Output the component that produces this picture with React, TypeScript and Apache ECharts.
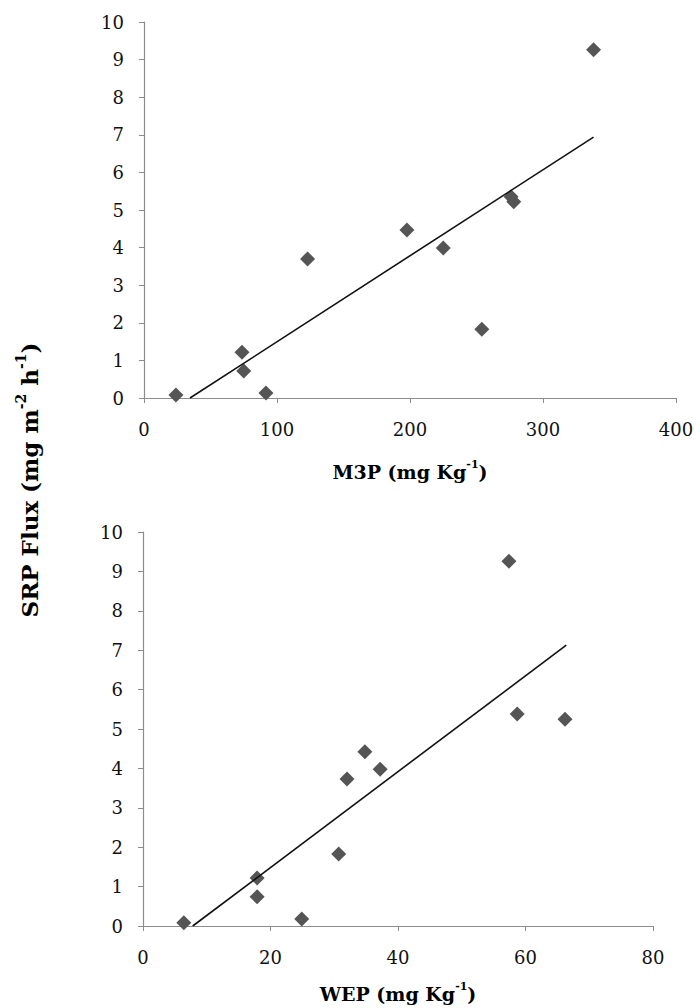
import React, { useEffect, useRef } from "react";
import * as echarts from "echarts";

// M3P panel (top)
const m3pX = [24, 73.7, 75, 91.7, 123, 197.7, 225, 254, 276, 278, 338];
const m3pY = [0.08, 1.22, 0.72, 0.13, 3.7, 4.47, 3.99, 1.83, 5.35, 5.22, 9.26];
const m3pTrendX = [34.6, 338];
const m3pTrendY = [0, 6.94];

// WEP panel (bottom)
const wepX = [6.4, 17.9, 17.9, 24.9, 30.7, 32, 34.8, 37.2, 57.4, 58.7, 66.2];
const wepY = [0.08, 1.22, 0.74, 0.18, 1.83, 3.73, 4.42, 3.98, 9.26, 5.38, 5.25];
const wepTrendX = [7.8, 66.4];
const wepTrendY = [0, 7.13];

const yTicks = { min: 0, max: 10, interval: 1 };
const m3pAxis = { min: 0, max: 400, interval: 100 };
const wepAxis = { min: 0, max: 80, interval: 20 };

const m3pTitle = "{b|M3P (mg Kg}{sup|-1}{b|)}";
const wepTitle = "{b|WEP (mg Kg}{sup|-1}{b|)}";
const yTitle = "{b|SRP Flux (mg m}{sup|-2}{b| h}{sup|-1}{b|)}";

const FONT = "'DejaVu Serif', 'Liberation Serif', serif";

const pairs = (xs: number[], ys: number[]) => xs.map((x, i) => [x, ys[i]]);

export default function App() {
  const ref = useRef<HTMLDivElement>(null);
  useEffect(() => {
    document.body.style.margin = "0";
    const chart = echarts.init(ref.current!, null, { renderer: "svg" });
    const axisCommon = {
      axisLine: { show: true, lineStyle: { color: "#8c8c8c", width: 1.2 } },
      axisTick: { show: true, length: 5, lineStyle: { color: "#8c8c8c" } },
      splitLine: { show: false },
      axisLabel: { color: "#111", fontFamily: FONT, fontSize: 18 },
    };
    const mkRich = (size: number) => ({
      b: { fontFamily: FONT, fontSize: size, fontWeight: "bold", color: "#111", lineHeight: size + 4, verticalAlign: "bottom" },
      sup: { fontFamily: FONT, fontSize: Math.round(size * 0.6), fontWeight: "bold", color: "#111", lineHeight: Math.round(size * 0.6), verticalAlign: "top" },
    });
    const scatterStyle = {
      type: "scatter",
      symbol: "diamond",
      symbolSize: 15,
      itemStyle: { color: "#555555", opacity: 1 },
    };
    const lineStyle = {
      type: "line",
      symbol: "none",
      lineStyle: { color: "#111", width: 1.6 },
    };
    chart.setOption({
      animation: false,
      backgroundColor: "#ffffff",
      grid: [
        { left: 144, top: 22, width: 532, height: 376 },
        { left: 143, top: 532, width: 510, height: 394 },
      ],
      xAxis: [
        { type: "value", gridIndex: 0, ...m3pAxis, ...axisCommon, axisLabel: { ...axisCommon.axisLabel, margin: 22 } },
        { type: "value", gridIndex: 1, ...wepAxis, ...axisCommon, axisLabel: { ...axisCommon.axisLabel, margin: 22 } },
      ],
      yAxis: [
        { type: "value", gridIndex: 0, ...yTicks, ...axisCommon, axisLabel: { ...axisCommon.axisLabel, margin: 20 } },
        { type: "value", gridIndex: 1, ...yTicks, ...axisCommon, axisLabel: { ...axisCommon.axisLabel, margin: 20 } },
      ],
      graphic: [
        {
          type: "text",
          x: 410,
          y: 470,
          style: { text: m3pTitle, rich: mkRich(19), align: "center", verticalAlign: "middle" },
        },
        {
          type: "text",
          x: 398,
          y: 992,
          style: { text: wepTitle, rich: mkRich(19), align: "center", verticalAlign: "middle" },
        },
        {
          type: "text",
          x: 27,
          y: 480,
          rotation: Math.PI / 2,
          style: { text: yTitle, rich: mkRich(23), align: "center", verticalAlign: "middle" },
        },
      ],
      series: [
        { ...scatterStyle, xAxisIndex: 0, yAxisIndex: 0, data: pairs(m3pX, m3pY) },
        { ...lineStyle, xAxisIndex: 0, yAxisIndex: 0, data: pairs(m3pTrendX, m3pTrendY) },
        { ...scatterStyle, xAxisIndex: 1, yAxisIndex: 1, data: pairs(wepX, wepY) },
        { ...lineStyle, xAxisIndex: 1, yAxisIndex: 1, data: pairs(wepTrendX, wepTrendY) },
      ],
    });
    return () => chart.dispose();
  }, []);
  return <div ref={ref} style={{ width: 700, height: 1008 }} />;
}
